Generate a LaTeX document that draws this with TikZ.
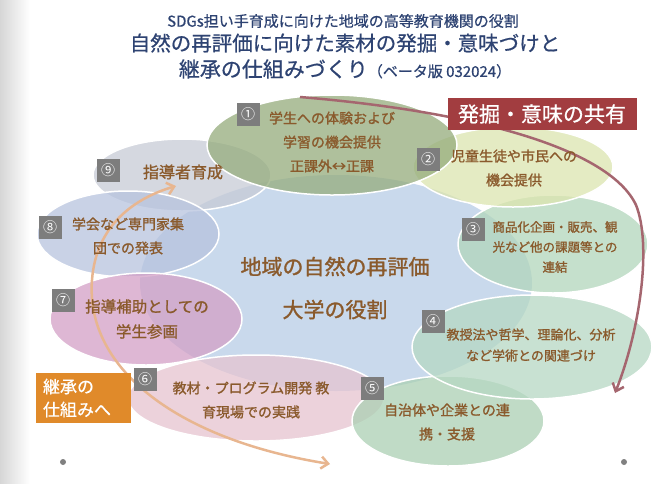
\documentclass[tikz,border=0pt]{standalone}
\usepackage{fontspec}
\setmainfont{Noto Sans CJK JP}
\newfontfamily\labelfont{Noto Sans CJK JP}[FakeBold=1.3]
\newfontfamily\titlefont{Noto Sans CJK JP}[FakeBold=0.6]
\usetikzlibrary{positioning, shapes.geometric, arrows.meta}

\definecolor{titleblue}{HTML}{2E4372}
\definecolor{textbrown}{HTML}{8A5A2C}
\definecolor{taggray}{HTML}{7D7D7D}
\definecolor{sharered}{HTML}{A23D40}
\definecolor{passorange}{HTML}{E08A2A}
\definecolor{corebl}{HTML}{C9D9EC}
\definecolor{ecol1}{HTML}{95AC7C}
\definecolor{ecol2}{HTML}{DCE5AF}
\definecolor{ecol3}{HTML}{B2D6BB}
\definecolor{ecol4}{HTML}{B6D8C3}
\definecolor{ecol5}{HTML}{ABD0B3}
\definecolor{ecol6}{HTML}{E6C4D0}
\definecolor{ecol7}{HTML}{D3A0C6}
\definecolor{ecol8}{HTML}{B7C3DE}
\definecolor{ecol9}{HTML}{C7CBD6}
\definecolor{arcrose}{HTML}{A5666F}
\definecolor{arcorange}{HTML}{E8B690}

\begin{document}
\begin{tikzpicture}[x=1pt, y=-1pt,
        blob/.style={ellipse, draw=white, line width=1.5pt, fill opacity=0.75, inner sep=0pt},
        numtag/.style={fill=taggray, text=white, minimum width=23pt, minimum height=23pt, inner sep=0pt, font=\fontsize{14}{14}\selectfont},
        blobtext/.style={text=textbrown, align=center, font=\labelfont\fontsize{14}{24}\selectfont}]
        \useasboundingbox (0,0) rectangle (668,483);
        \fill[white] (0,0) rectangle (668,483);
        \shade[left color=black!16, right color=white] (0,0) rectangle (30,483);

        % title
        \node[text=titleblue, font=\titlefont\fontsize{15}{15}\selectfont]   (title1)  at (343,21)  {SDGs担い手育成に向けた地域の高等教育機関の役割};
        \node[text=titleblue, font=\titlefont\fontsize{20.5}{20.5}\selectfont] (title2) at (345,43) {自然の再評価に向けた素材の発掘・意味づけと};
        \node[text=titleblue, font=\titlefont\fontsize{21}{21}\selectfont]   (title3)  at (345,69)  {継承の仕組みづくり{\fontsize{15}{15}\selectfont（ベータ版 032024）}};

        % ellipses
        \node[ellipse, fill=corebl, inner sep=0pt, minimum width=392pt, minimum height=216pt] (core) at (336,283) {};
        \node[blob, fill=ecol9, minimum width=178pt, minimum height=72pt]   (e9) at (182,175) {};
        \node[blob, fill=ecol8, minimum width=182pt, minimum height=86pt]   (e8) at (128,234) {};
        \node[blob, fill=ecol7, minimum width=192pt, minimum height=92pt]   (e7) at (146,319) {};
        \node[blob, fill=ecol6, minimum width=256pt, minimum height=86pt]   (e6) at (256,398) {};
        \node[blob, fill=ecol5, minimum width=192pt, minimum height=90pt]   (e5) at (448,421) {};
        \node[blob, fill=ecol4, minimum width=240pt, minimum height=104pt]  (e4) at (532,347) {};
        \node[blob, fill=ecol3, minimum width=190pt, minimum height=98pt]   (e3) at (553,244) {};
        \node[blob, fill=ecol2, minimum width=200pt, minimum height=80pt]   (e2) at (513,167) {};
        \node[blob, fill=ecol1, minimum width=250pt, minimum height=100pt]  (e1) at (332,145) {};

        % cycle arcs
        \coordinate (shareA) at (300,97);
        \coordinate (shareB) at (615,393);
        \coordinate (passA)  at (330,464);
        \coordinate (passB)  at (176,186);
        \draw[arcrose, line width=2.5pt, -{Straight Barb[length=7pt, width=12pt]}]
            (shareA) .. controls (480,112) and (610,150) .. (636,205)
                     .. controls (652,245) and (640,330) .. (shareB);
        \draw[arcorange, line width=2.5pt, {Straight Barb[length=7pt, width=12pt]}-{Straight Barb[length=7pt, width=12pt]}]
            (passA) .. controls (180,440) and (85,370) .. (92,280)
                    .. controls (96,225) and (135,198) .. (passB);

        % texts
        \node[blobtext] (t1) at (332,142) {学生への体験および\\学習の機会提供\\正課外↔正課};
        \node[blobtext] (t2) at (514,168) {児童生徒や市民への\\機会提供};
        \node[blobtext, font=\labelfont\fontsize{12.5}{20}\selectfont] (t3) at (555,247) {商品化企画・販売、観\\光など他の課題等との\\連結};
        \node[blobtext, font=\labelfont\fontsize{13}{21}\selectfont] (t4) at (531,345) {教授法や哲学、理論化、分析\\など学術との関連づけ};
        \node[blobtext] (t5) at (447,422) {自治体や企業との連\\携・支援};
        \node[blobtext] (t6) at (251,400) {教材・プログラム開発 教\\育現場での実践};
        \node[blobtext, font=\labelfont\fontsize{15.5}{25}\selectfont] (t7) at (147,319) {指導補助としての\\学生参画};
        \node[blobtext] (t8) at (128,236) {学会など専門家集\\団での発表};
        \node[blobtext, font=\labelfont\fontsize{16}{16}\selectfont] (t9) at (183,172) {指導者育成};
        \node[blobtext, font=\labelfont\fontsize{21}{43}\selectfont] (core text) at (335,288) {地域の自然の再評価\\大学の役割};

        % number tags
        \node[numtag] (n1) at (248,114) {①};
        \node[numtag] (n2) at (428,159) {②};
        \node[numtag] (n3) at (473,229) {③};
        \node[numtag] (n4) at (433,321) {④};
        \node[numtag] (n5) at (372,388) {⑤};
        \node[numtag] (n6) at (145,379) {⑥};
        \node[numtag] (n7) at (63,300)  {⑦};
        \node[numtag] (n8) at (50,227)  {⑧};
        \node[numtag] (n9) at (108,170) {⑨};

        % stage boxes
        \node[fill=sharered, text=white, minimum width=189pt, minimum height=32pt, inner sep=0pt,
              font=\titlefont\fontsize{21}{21}\selectfont] (share) at (542,114) {発掘・意味の共有};
        \node[fill=passorange, text=white, text width=81pt, inner xsep=7pt, minimum height=50pt,
              align=left, font=\titlefont\fontsize{17}{23}\selectfont] (pass) at (83.5,398) {継承の\\仕組みへ};

        % dots
        \node[circle, fill=gray, inner sep=0pt, minimum size=6pt] (dotL) at (63,462)  {};
        \node[circle, fill=gray, inner sep=0pt, minimum size=6pt] (dotR) at (624,462) {};
    \end{tikzpicture}
\end{document}
